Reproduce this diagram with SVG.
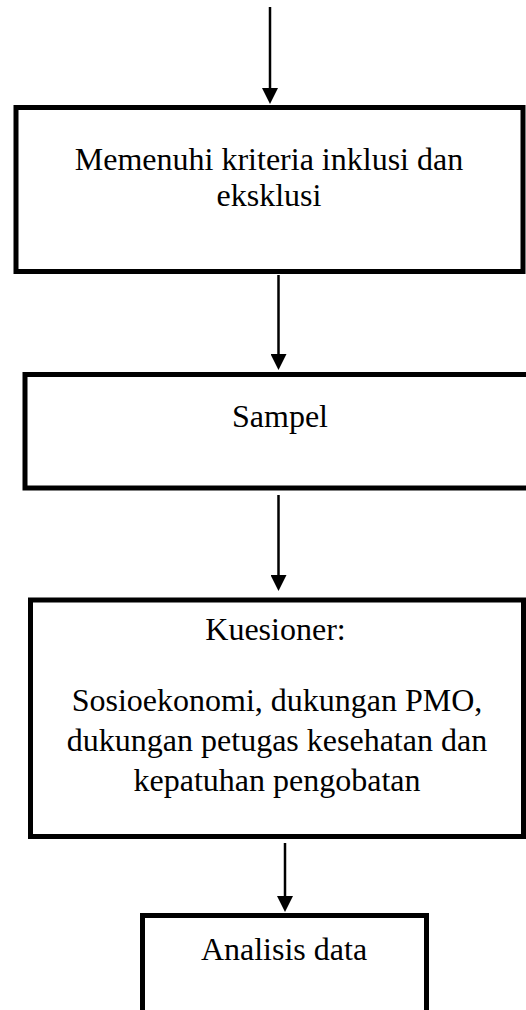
<svg xmlns="http://www.w3.org/2000/svg" width="526" height="1010" viewBox="0 0 526 1010">
<style>
.box{fill:#fff;stroke:#000;stroke-width:5}
.t{font-family:"Liberation Serif","Times New Roman",serif;font-size:32px;fill:#000;text-anchor:middle}
.c{stroke:#000;stroke-width:2.5;fill:none}
</style>
<defs>
<marker id="ah" markerUnits="userSpaceOnUse" markerWidth="16" markerHeight="16" refX="0" refY="8" orient="auto" viewBox="0 0 16 16">
<path d="M0,0 L16,8 L0,16 z" fill="#000"/>
</marker>
</defs>
<rect width="526" height="1010" fill="#fff"/>
<g id="n1">
<rect class="box" x="16" y="107.5" width="507" height="164"/>
<text class="t" x="269" y="170">Memenuhi kriteria inklusi dan</text>
<text class="t" x="269" y="206">eksklusi</text>
</g>
<g id="n2">
<rect class="box" x="25" y="374.5" width="520" height="113.5"/>
<text class="t" x="280" y="427">Sampel</text>
</g>
<g id="n3">
<rect class="box" x="30.5" y="600" width="493" height="236.5"/>
<text class="t" x="275.5" y="640">Kuesioner:</text>
<text class="t" x="277" y="711">Sosioekonomi, dukungan PMO,</text>
<text class="t" x="277" y="751">dukungan petugas kesehatan dan</text>
<text class="t" x="277" y="791">kepatuhan pengobatan</text>
</g>
<g id="n4">
<rect class="box" x="142.5" y="915.5" width="284" height="120"/>
<text class="t" x="284" y="960">Analisis data</text>
</g>
<g id="connectors">
<line class="c" x1="270" y1="7" x2="270" y2="88" marker-end="url(#ah)"/>
<line class="c" x1="278.5" y1="275" x2="278.5" y2="354" marker-end="url(#ah)"/>
<line class="c" x1="278.5" y1="495" x2="278.5" y2="575" marker-end="url(#ah)"/>
<line class="c" x1="285" y1="843" x2="285" y2="896" marker-end="url(#ah)"/>
</g>
</svg>
